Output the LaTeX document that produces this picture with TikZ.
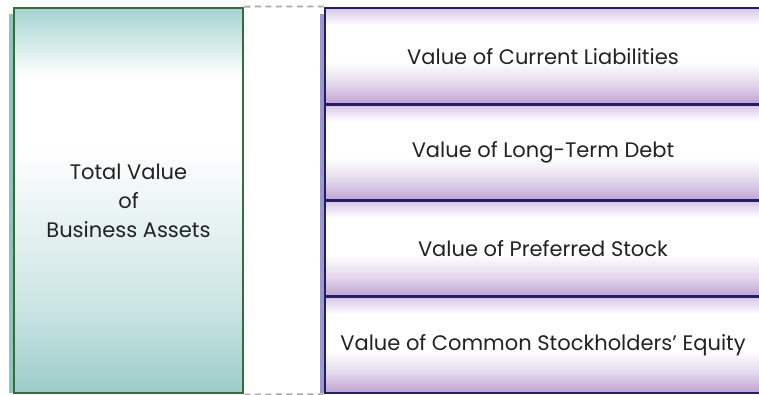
\documentclass[tikz,border=0pt]{standalone}
\usepackage{fontspec}
\setmainfont{Poppins}

\definecolor{assetline}{HTML}{386A3C}
\definecolor{assetside}{HTML}{8EC3BF}
\definecolor{assettop}{HTML}{A6D3D1}
\definecolor{assetlow}{HTML}{9CCDCA}
\definecolor{claimline}{HTML}{251F62}
\definecolor{claimside}{HTML}{9D98CB}
\definecolor{claimtop}{HTML}{D6C6E6}
\definecolor{claimlow}{HTML}{BEA2D3}
\definecolor{linkgray}{HTML}{A8A8A8}
\definecolor{textgray}{HTML}{222222}

% vertical fades; the box covers 25bp (bottom) to 75bp (top)
\pgfdeclareverticalshading{assetfade}{100bp}{
  color(0bp)=(assetlow); color(25bp)=(assetlow);
  color(37bp)=(assetlow!50!white); color(50bp)=(assetlow!18!white);
  color(57bp)=(white); color(66bp)=(white);
  color(75bp)=(assettop); color(100bp)=(assettop)}
\pgfdeclareverticalshading{claimfade}{100bp}{
  color(0bp)=(claimlow); color(25bp)=(claimlow);
  color(35bp)=(claimlow!45!white); color(47bp)=(white);
  color(66bp)=(white); color(75bp)=(claimtop); color(100bp)=(claimtop)}

\begin{document}
\begin{tikzpicture}[
  x=1pt, y=-1pt,
  label/.style={text=textgray, font=\fontsize{21}{29}\selectfont, align=center},
  assetbox/.style={draw=assetline, line width=2.8pt, shading=assetfade,
    minimum width=229pt, minimum height=385pt, label},
  claimbox/.style={draw=claimline, line width=2.8pt, shading=claimfade,
    minimum width=436pt, minimum height=96.25pt, label},
  link/.style={draw=linkgray, line width=1.8pt, dash pattern=on 6pt off 4.5pt}
]
\useasboundingbox (0,0) rectangle (759,394);

% side bands
\fill[assetside] (9,14) rectangle (13,393);
\fill[claimside] (320,14) rectangle (325,393);

\node[assetbox] (assets) at (128.5,200.5) {Total Value\\of\\Business Assets};

% the four claims, stacked top to bottom
\foreach \i/\nm/\txt in {0/liab/Value of Current Liabilities,
                         1/debt/Value of Long-Term Debt,
                         2/pref/Value of Preferred Stock,
                         3/equity/Value of Common Stockholders’ Equity} {
  \node[claimbox] (\nm) at (543,56.1+\i*96.25) {\txt};
}

\draw[link] (assets.north east) -- (liab.north west);
\draw[link] (assets.south east) -- (equity.south west);
\end{tikzpicture}
\end{document}
